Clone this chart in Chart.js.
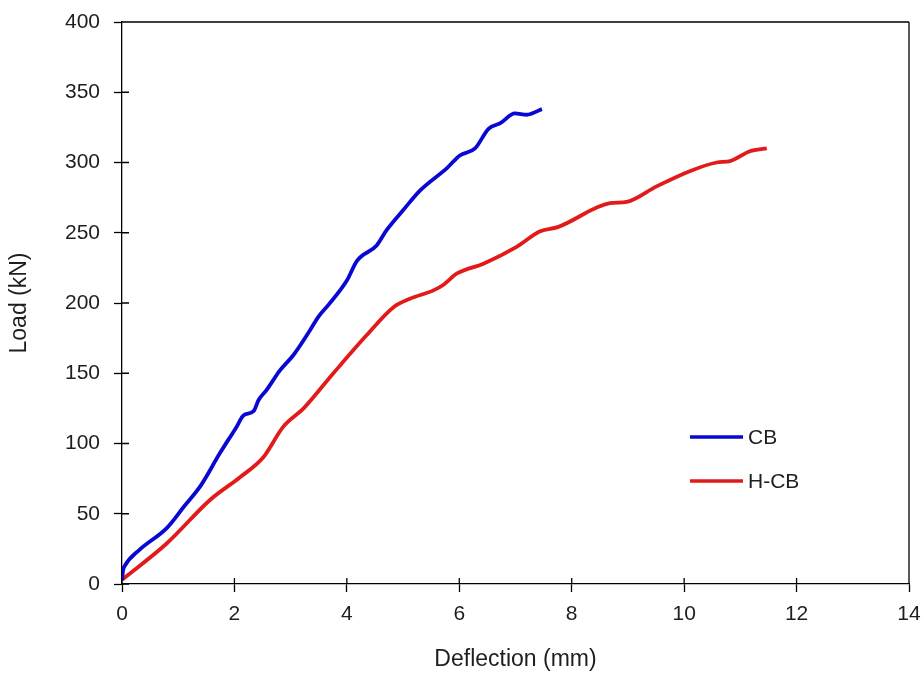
<!DOCTYPE html>
<html>
<head>
<meta charset="utf-8">
<title>Load-deflection</title>
<script src="https://cdn.jsdelivr.net/npm/chart.js@4.4.1/dist/chart.umd.min.js"></script>
<style>
  html, body { margin: 0; padding: 0; background: #fff; }
  #wrap { width: 923px; height: 676px; }
</style>
</head>
<body>
<div id="wrap"><canvas id="loadChart" width="923" height="676"></canvas></div>
<script>
// --- series data (deflection in mm, load in kN) ---
const cbDeflection = [0, 0.02, 0.05, 0.3, 0.8, 1.1, 1.4, 1.74, 2.04, 2.16, 2.34, 2.43, 2.57, 2.81, 3.05, 3.35, 3.49, 3.68, 4.0, 4.18, 4.53, 4.71, 5.0, 5.3, 5.78, 6.01, 6.28, 6.52, 6.73, 6.99, 7.2, 7.47];
const cbLoad       = [3, 10, 13, 24, 40, 55, 70, 93, 112, 120, 123, 131, 138, 152, 163, 181, 190, 199, 216, 230, 241, 252, 266, 280, 296, 305, 310, 324, 328, 335, 334, 338];

const hcbDeflection = [0, 0.8, 1.57, 2.1, 2.51, 2.87, 3.23, 3.76, 4.35, 4.83, 5.12, 5.54, 5.72, 5.96, 6.43, 7.02, 7.44, 7.75, 8.68, 8.98, 9.51, 10.11, 10.58, 10.82, 11.17, 11.47];
const hcbLoad       = [3, 29, 60, 76, 90, 112, 125, 150, 177, 197, 203, 209, 213, 221, 228, 240, 251, 254, 271, 272, 283, 294, 300, 301, 308, 310];

const seriesNames = ['CB', 'H-CB'];
const seriesColors = ['#0808d2', '#e21a1a'];

const xTicks = { min: 0, max: 14, step: 2 };
const yTicks = { min: 0, max: 400, step: 50 };

const toPoints = (xs, ys) => xs.map((x, i) => ({ x: x, y: ys[i] }));

const FONT = "'Liberation Sans', Arial, sans-serif";
const TEXT = '#1e1e1e';

// border on top/right + inward half of tick marks
const frameAndTicks = {
  id: 'frameAndTicks',
  afterDraw(chart) {
    const { ctx, chartArea: a, scales } = chart;
    ctx.save();
    ctx.strokeStyle = '#000';
    ctx.lineWidth = 1.3;
    ctx.beginPath();
    ctx.moveTo(a.left, a.top); ctx.lineTo(a.right, a.top);
    ctx.moveTo(a.right, a.top); ctx.lineTo(a.right, a.bottom);
    scales.x.ticks.forEach(t => {
      const px = scales.x.getPixelForValue(t.value);
      ctx.moveTo(px, a.bottom); ctx.lineTo(px, a.bottom - 6);
    });
    scales.y.ticks.forEach(t => {
      const py = scales.y.getPixelForValue(t.value);
      ctx.moveTo(a.left, py); ctx.lineTo(a.left + 7, py);
    });
    ctx.stroke();
    ctx.restore();
  }
};

// legend drawn inside the plot, lower right
const inlineLegend = {
  id: 'inlineLegend',
  afterDraw(chart) {
    const ctx = chart.ctx;
    const x0 = 690, x1 = 743, rows = [437, 481];
    ctx.save();
    ctx.font = '21px ' + FONT;
    ctx.textBaseline = 'middle';
    ctx.fillStyle = TEXT;
    chart.data.datasets.forEach((ds, i) => {
      ctx.strokeStyle = ds.borderColor;
      ctx.lineWidth = 3.5;
      ctx.beginPath();
      ctx.moveTo(x0, rows[i]); ctx.lineTo(x1, rows[i]);
      ctx.stroke();
      ctx.fillText(ds.label, x1 + 5, rows[i] + 1);
    });
    ctx.restore();
  }
};

const axisStyle = (title, cfg, isX) => ({
  type: 'linear',
  min: cfg.min,
  max: cfg.max,
  border: { display: true, color: '#000', width: 1.3 },
  grid: { drawOnChartArea: false, drawTicks: true, tickLength: 8, color: '#000', tickWidth: 1.3 },
  ticks: { stepSize: cfg.step, color: TEXT, font: { family: FONT, size: 21 }, padding: isX ? 10 : 14 },
  title: {
    display: true,
    text: title,
    color: TEXT,
    font: { family: FONT, size: 23 },
    padding: isX ? { top: 0, bottom: 3 } : { top: 6, bottom: 0 }
  },
  afterFit(scale) {
    // fixed axis boxes; end labels may overhang the plot edges
    if (isX) {
      scale.height = 92;
      scale.paddingLeft = 0;
      scale.paddingRight = 0;
    } else {
      scale.width = 122;
      scale.paddingTop = 0;
      scale.paddingBottom = 0;
    }
  }
});

new Chart(document.getElementById('loadChart'), {
  type: 'scatter',
  data: {
    datasets: [
      { label: seriesNames[0], data: toPoints(cbDeflection, cbLoad) },
      { label: seriesNames[1], data: toPoints(hcbDeflection, hcbLoad) }
    ].map((ds, i) => Object.assign(ds, {
      showLine: true,
      borderColor: seriesColors[i],
      backgroundColor: seriesColors[i],
      borderWidth: 3.8,
      pointRadius: 0,
      cubicInterpolationMode: 'monotone'
    }))
  },
  options: {
    responsive: false,
    animation: false,
    layout: { padding: { left: 0, top: 22, right: 14, bottom: 0 } },
    plugins: { legend: { display: false }, tooltip: { enabled: false } },
    scales: {
      x: axisStyle('Deflection (mm)', xTicks, true),
      y: axisStyle('Load (kN)', yTicks, false)
    }
  },
  plugins: [frameAndTicks, inlineLegend]
});
</script>
</body>
</html>
